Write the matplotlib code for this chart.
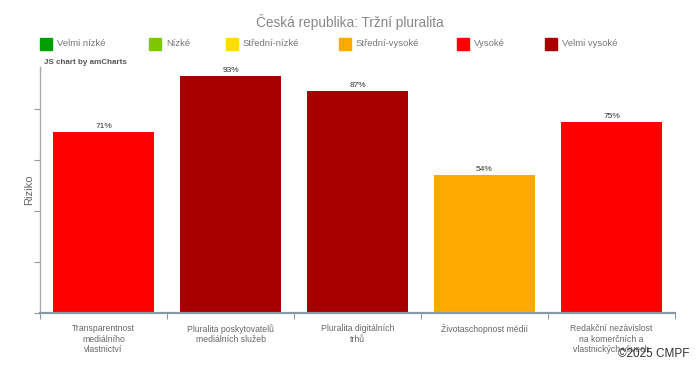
import matplotlib.pyplot as plt
from matplotlib.patches import Rectangle

plt.rcParams['font.family'] = ['Liberation Sans', 'DejaVu Sans']

# ===== DATA =====
categories = [
    "Transparentnost\nmediálního\nvlastnictví",
    "Pluralita poskytovatelů\nmediálních služeb",
    "Pluralita digitálních\ntrhů",
    "Životaschopnost médií",
    "Redakční nezávislost\nna komerčních a\nvlastnických vlivech",
]
values = [71, 93, 87, 54, 75]
risk_levels = ["Vysoké", "Velmi vysoké", "Velmi vysoké", "Střední-vysoké", "Vysoké"]

legend_labels = ["Velmi nízké", "Nízké", "Střední-nízké", "Střední-vysoké", "Vysoké", "Velmi vysoké"]
legend_colors = ["#009e00", "#7dc600", "#ffdd00", "#ffaa00", "#ff0000", "#a80000"]
legend_x = [40, 149, 226, 339, 457, 545]  # pixel positions of legend swatches

color_of = dict(zip(legend_labels, legend_colors))

# ===== PLOT =====
W, H = 700, 372
fig = plt.figure(figsize=(W / 100, H / 100), dpi=100)
ax = fig.add_axes([40 / W, 1 - 313 / H, 635 / W, (313 - 67) / H])

x = list(range(len(values)))
ax.bar(x, values, width=0.8, color=[color_of[r] for r in risk_levels],
       edgecolor="none", zorder=2)
for xi, v in zip(x, values):
    ax.text(xi, v + 0.8, f"{v}%", ha="center", va="bottom", fontsize=6, color="#333333")

ax.set_xlim(-0.5, len(values) - 0.5)
ax.set_ylim(0, 96.5)
ax.set_yticks([0, 20, 40, 60, 80])
ax.set_yticklabels([])
ax.tick_params(axis="y", length=4, color="#999999", width=0.8)
ax.set_xticks([i - 0.5 for i in range(len(values) + 1)])
ax.set_xticklabels([])
ax.tick_params(axis="x", length=4, color="#8899a6", width=0.8)
for xi, lab in zip(x, categories):
    ax.text(xi, -4.3, lab, ha="center", va="top", fontsize=6.2, color="#666666",
            linespacing=1.25, transform=ax.transData)

for s in ["top", "right"]:
    ax.spines[s].set_visible(False)
ax.spines["left"].set_color("#aaaaaa")
ax.spines["left"].set_linewidth(1)
ax.spines["bottom"].set_color("#8899a6")
ax.spines["bottom"].set_linewidth(1.6)

ax.set_ylabel("Riziko", fontsize=8, color="#666666")
ax.yaxis.set_label_coords(-6 / 635, 0.5)

# title and legend
fig.text(350 / W, 1 - 22 / H, "Česká republika: Tržní pluralita", ha="center", va="center",
         fontsize=9.8, color="#888888")
for lx, lab, col in zip(legend_x, legend_labels, legend_colors):
    fig.patches.append(Rectangle((lx / W, 1 - 50 / H), 12 / W, 12 / H,
                                 transform=fig.transFigure, color=col, figure=fig))
    fig.text((lx + 17) / W, 1 - 44 / H, lab, ha="left", va="center",
             fontsize=6.8, color="#777777")

fig.text(44 / W, 1 - 62 / H, "JS chart by amCharts", ha="left", va="center",
         fontsize=5.8, color="#555555", fontweight="bold")
fig.text(690 / W, 1 - 354 / H, "©2025 CMPF", ha="right", va="center",
         fontsize=8.5, color="#333333")

fig.savefig("out.png", dpi=100)
